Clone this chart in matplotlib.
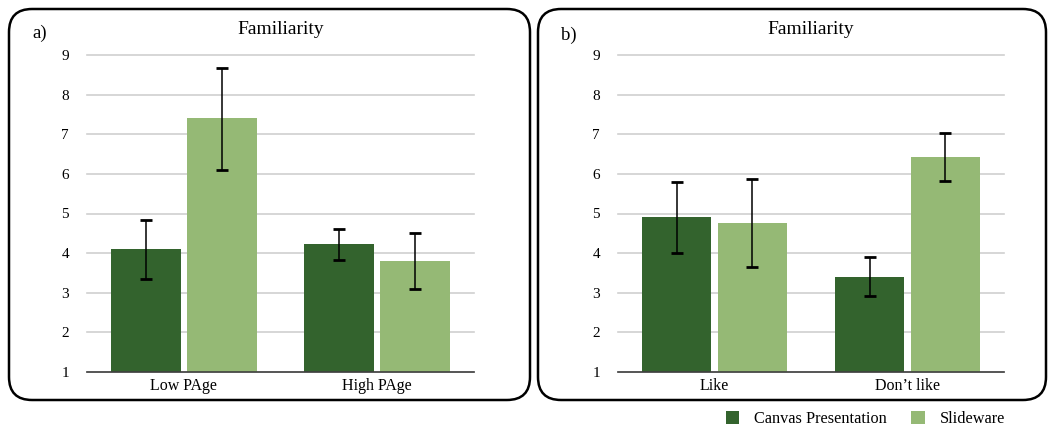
import numpy as np
import matplotlib
matplotlib.use("Agg")
import matplotlib.pyplot as plt
from matplotlib.patches import FancyBboxPatch, Patch

plt.rcParams["font.family"] = ["Liberation Serif", "DejaVu Serif"]

# ── Data ───────────────────────────────────────────────────────────────────
series = ["Canvas Presentation", "Slideware"]
colors = ["#33632D", "#95B975"]

cats_a = ["Low PAge", "High PAge"]
mean_a_canvas = [4.11, 4.23]
mean_a_slide = [7.41, 3.80]
lo_a_canvas = [3.35, 3.83]
hi_a_canvas = [4.84, 4.61]
lo_a_slide = [6.10, 3.10]
hi_a_slide = [8.68, 4.52]

cats_b = ["Like", "Don\u2019t like"]
mean_b_canvas = [4.91, 3.40]
mean_b_slide = [4.76, 6.43]
lo_b_canvas = [4.00, 2.92]
hi_b_canvas = [5.80, 3.90]
lo_b_slide = [3.65, 5.83]
hi_b_slide = [5.87, 7.04]

W, H = 1049, 429


def px_box(x0, y0, x1, y1):
    """Pixel box (top-left origin) -> figure fraction [l, b, w, h]."""
    return [x0 / W, 1 - y1 / H, (x1 - x0) / W, (y1 - y0) / H]


def draw_panel(ax, cats, means, los, his):
    x = np.arange(len(cats))
    width = 0.36
    offs = [-0.196, 0.196]
    for m, lo, hi, off, c in zip(means, los, his, offs, colors):
        m = np.array(m)
        yerr = [m - np.array(lo), np.array(hi) - m]
        ax.bar(x + off, m - 1, bottom=1, width=width, color=c, zorder=2)
        ax.errorbar(x + off, m, yerr=yerr, fmt="none", ecolor="black",
                    elinewidth=1.1, capsize=4, capthick=2, zorder=3)
    ax.set_xlim(-0.5, len(cats) - 0.5)
    ax.set_ylim(1, 9)
    ax.set_yticks(range(1, 10))
    ax.set_xticks(x)
    ax.set_xticklabels(cats, fontsize=11.5)
    ax.tick_params(axis="y", length=0, pad=13, labelsize=11)
    ax.tick_params(axis="x", length=0, pad=4)
    ax.grid(axis="y", color="#d0d0d0", linewidth=1.2, zorder=0)
    for gl in ax.get_ygridlines():
        gl.set_clip_on(False)
    ax.set_axisbelow(True)
    for s in ("top", "right", "left"):
        ax.spines[s].set_visible(False)
    ax.spines["bottom"].set_color("#404040")
    ax.spines["bottom"].set_linewidth(1.2)
    ax.set_title("Familiarity", fontsize=14, pad=15)


fig = plt.figure(figsize=(W / 100, H / 100), dpi=100)

# rounded frames around each panel
for x0, x1 in [(9, 530), (538, 1046)]:
    l, b, w, h = px_box(x0, 9, x1, 400)
    fig.patches.append(FancyBboxPatch(
        (l, b), w, h, boxstyle="round,pad=0,rounding_size=0.022",
        transform=fig.transFigure, fill=False, edgecolor="black",
        linewidth=1.8, mutation_aspect=W / H))

ax1 = fig.add_axes(px_box(87, 55, 474, 372))
ax2 = fig.add_axes(px_box(618, 55, 1004, 372))

draw_panel(ax1, cats_a, [mean_a_canvas, mean_a_slide],
           [lo_a_canvas, lo_a_slide], [hi_a_canvas, hi_a_slide])
draw_panel(ax2, cats_b, [mean_b_canvas, mean_b_slide],
           [lo_b_canvas, lo_b_slide], [hi_b_canvas, hi_b_slide])

fig.text(32 / W, 1 - 33 / H, "a)", fontsize=13.5, va="center", ha="left")
fig.text(561 / W, 1 - 35 / H, "b)", fontsize=13.5, va="center", ha="left")

handles = [Patch(facecolor=c, edgecolor="none") for c in colors]
fig.legend(handles, series, loc="center right", bbox_to_anchor=(1013 / W, 1 - 419 / H),
           ncol=2, frameon=False, fontsize=11.7, handlelength=0.85, handleheight=0.85,
           handletextpad=0.9, columnspacing=1.5, borderpad=0)

fig.savefig("out.png", dpi=100)
